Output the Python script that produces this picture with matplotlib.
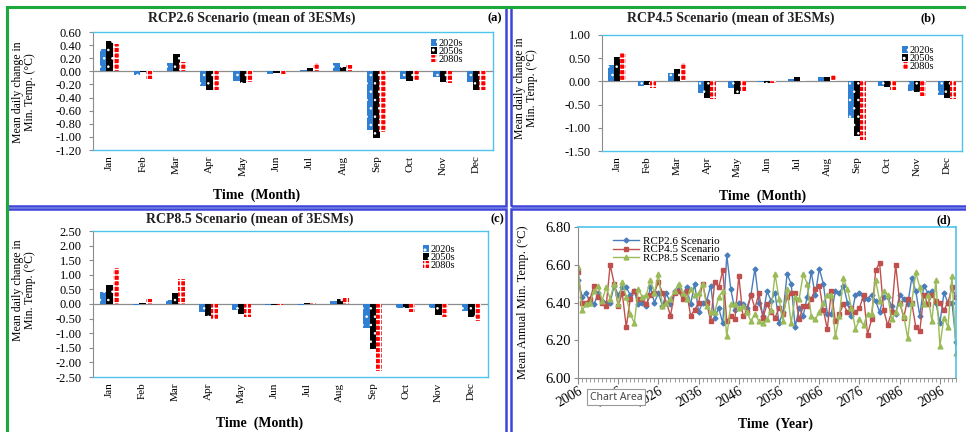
import numpy as np
import matplotlib
matplotlib.use("Agg")
import matplotlib.pyplot as plt
from matplotlib.ticker import FormatStrFormatter, MultipleLocator
from matplotlib.patches import Rectangle
from matplotlib.lines import Line2D

plt.rcParams['font.family'] = ['Liberation Serif', 'DejaVu Serif']
plt.rcParams['axes.unicode_minus'] = False

months = ['Jan', 'Feb', 'Mar', 'Apr', 'May', 'Jun', 'Jul', 'Aug', 'Sep', 'Oct', 'Nov', 'Dec']
periods = ['2020s', '2050s', '2080s']

# RCP2.6 monthly change (deg C)
rcp26_2020s = [0.34, -0.06, 0.12, -0.23, -0.15, -0.04, 0.02, 0.12, -0.89, -0.12, -0.08, -0.17]
rcp26_2050s = [0.47, -0.01, 0.26, -0.29, -0.18, -0.02, 0.05, 0.07, -1.01, -0.15, -0.17, -0.29]
rcp26_2080s = [0.41, -0.12, 0.14, -0.29, -0.16, -0.04, 0.12, 0.10, -0.93, -0.13, -0.18, -0.28]

# RCP4.5
rcp45_2020s = [0.35, -0.10, 0.18, -0.25, -0.14, -0.02, 0.05, 0.09, -0.78, -0.09, -0.20, -0.30]
rcp45_2050s = [0.53, -0.07, 0.27, -0.36, -0.27, -0.04, 0.10, 0.10, -1.18, -0.13, -0.23, -0.36]
rcp45_2080s = [0.61, -0.14, 0.39, -0.37, -0.23, -0.04, 0.03, 0.14, -1.27, -0.18, -0.31, -0.37]

# RCP8.5
rcp85_2020s = [0.40, -0.05, 0.12, -0.26, -0.20, -0.05, -0.02, 0.10, -0.83, -0.12, -0.12, -0.24]
rcp85_2050s = [0.65, 0.03, 0.38, -0.40, -0.33, -0.05, 0.02, 0.17, -1.55, -0.15, -0.38, -0.45]
rcp85_2080s = [1.23, 0.16, 0.85, -0.50, -0.43, -0.05, 0.03, 0.22, -2.28, -0.26, -0.44, -0.59]

# annual mean minimum temperature 2006-2100
years = list(range(2006, 2101))
annual_rcp26 = [6.52, 6.43, 6.45, 6.40, 6.39, 6.45, 6.41, 6.40, 6.40, 6.49,
                6.44, 6.48, 6.48, 6.44, 6.46, 6.39, 6.40, 6.38, 6.48, 6.40,
                6.45, 6.38, 6.45, 6.39, 6.46, 6.47, 6.44, 6.48, 6.39, 6.50,
                6.35, 6.40, 6.41, 6.49, 6.32, 6.37, 6.29, 6.65, 6.47, 6.36,
                6.40, 6.39, 6.37, 6.44, 6.58, 6.40, 6.33, 6.46, 6.41, 6.45,
                6.29, 6.35, 6.55, 6.50, 6.27, 6.37, 6.33, 6.43, 6.56, 6.44,
                6.58, 6.50, 6.34, 6.34, 6.46, 6.45, 6.49, 6.40, 6.33, 6.44,
                6.45, 6.42, 6.42, 6.44, 6.41, 6.35, 6.43, 6.43, 6.38, 6.34,
                6.44, 6.42, 6.39, 6.53, 6.46, 6.33, 6.49, 6.45, 6.46, 6.40,
                6.29, 6.45, 6.40, 6.40, 6.19]
annual_rcp45 = [6.56, 6.40, 6.40, 6.42, 6.49, 6.43, 6.40, 6.38, 6.60, 6.50,
                6.38, 6.45, 6.27, 6.42, 6.46, 6.42, 6.42, 6.39, 6.44, 6.45,
                6.51, 6.45, 6.40, 6.33, 6.45, 6.46, 6.42, 6.46, 6.33, 6.36,
                6.40, 6.50, 6.40, 6.30, 6.51, 6.48, 6.57, 6.30, 6.33, 6.31,
                6.54, 6.33, 6.35, 6.44, 6.37, 6.45, 6.32, 6.39, 6.35, 6.32,
                6.37, 6.34, 6.43, 6.45, 6.45, 6.31, 6.38, 6.38, 6.42, 6.47,
                6.49, 6.36, 6.26, 6.46, 6.30, 6.34, 6.39, 6.35, 6.37, 6.35,
                6.37, 6.44, 6.23, 6.31, 6.57, 6.61, 6.36, 6.28, 6.35, 6.60,
                6.40, 6.32, 6.42, 6.40, 6.27, 6.25, 6.44, 6.39, 6.44, 6.41,
                6.40, 6.36, 6.40, 6.48, 6.43]
annual_rcp85 = [6.59, 6.36, 6.39, 6.40, 6.46, 6.49, 6.41, 6.48, 6.42, 6.50,
                6.39, 6.51, 6.43, 6.34, 6.29, 6.47, 6.43, 6.44, 6.52, 6.45,
                6.55, 6.38, 6.40, 6.42, 6.46, 6.50, 6.45, 6.42, 6.47, 6.44,
                6.45, 6.50, 6.38, 6.35, 6.35, 6.43, 6.46, 6.22, 6.39, 6.39,
                6.37, 6.38, 6.35, 6.30, 6.34, 6.30, 6.29, 6.31, 6.36, 6.55,
                6.42, 6.30, 6.47, 6.29, 6.43, 6.42, 6.55, 6.50, 6.33, 6.31,
                6.35, 6.40, 6.44, 6.44, 6.22, 6.33, 6.53, 6.47, 6.37, 6.26,
                6.31, 6.28, 6.34, 6.34, 6.52, 6.41, 6.46, 6.44, 6.31, 6.35,
                6.40, 6.33, 6.21, 6.40, 6.56, 6.48, 6.39, 6.44, 6.30, 6.52,
                6.17, 6.32, 6.27, 6.54, 6.13]

W, H = 966, 432
fig = plt.figure(figsize=(W / 100, H / 100), dpi=100)


def frac(x0, y0, x1, y1):
    # pixel box (top-left origin) -> figure rect
    return [x0 / W, 1 - y1 / H, (x1 - x0) / W, (y1 - y0) / H]


# panel frames
frame_blue = '#3D45D6'
for (x0, y0, x1, y1) in [(7, 7, 506, 206), (511, 7, 970, 206), (7, 209, 506, 440), (511, 209, 970, 440)]:
    fig.patches.append(Rectangle((x0 / W, 1 - y1 / H), (x1 - x0) / W, (y1 - y0) / H,
                                 transform=fig.transFigure, fill=False,
                                 edgecolor=frame_blue, lw=1.8))
fig.add_artist(Line2D([7 / W, 7 / W], [0, 1 - 7 / H], color='#1DAA3C', lw=2.2, transform=fig.transFigure))
fig.add_artist(Line2D([7 / W, 1], [1 - 7 / H, 1 - 7 / H], color='#1DAA3C', lw=2.2, transform=fig.transFigure))

sky = '#4EC3EE'
bar_colors = ['#2F7FD3', '#000000', '#FF0000']
hatches = ['..', '..', '+++']
hatch_lw = [0.6, 0.6, 1.0]


def bar_panel(rect, data, ylim, step, title, tag, title_xy, tag_xy, ylab_xy, xlab_xy, leg_xy):
    ax = fig.add_axes(frac(*rect))
    x = np.arange(len(months))
    w = 0.19
    handles = []
    for i, vals in enumerate(data):
        pos = x + (i - 1) * w
        ax.bar(pos, vals, w, color=bar_colors[i], edgecolor='none', zorder=2)
        with plt.rc_context({'hatch.linewidth': hatch_lw[i]}):
            ax.bar(pos, vals, w, facecolor='none', edgecolor='white', hatch=hatches[i], lw=0, zorder=3)
            handles.append(Rectangle((0, 0), 1, 1, facecolor=bar_colors[i], edgecolor='white',
                                     hatch=hatches[i], lw=0))
    ax.set_xlim(-0.5, 11.5)
    ax.set_ylim(*ylim)
    ax.yaxis.set_major_locator(MultipleLocator(step))
    ax.yaxis.set_major_formatter(FormatStrFormatter('%.2f'))
    ax.axhline(0, color='#8c8c8c', lw=0.9, zorder=1)
    ax.set_xticks(x)
    ax.set_xticklabels(months, rotation=90, fontsize=8)
    ax.tick_params(axis='x', length=0, pad=4)
    ax.tick_params(axis='y', labelsize=9, length=3, color='#8c8c8c', pad=5)
    for s in ['top', 'right', 'bottom']:
        ax.spines[s].set_color(sky)
        ax.spines[s].set_linewidth(1.0)
    ax.spines['left'].set_color('#8c8c8c')

    ax.legend(handles, periods, loc='upper left', bbox_to_anchor=(leg_xy[0] / W, 1 - leg_xy[1] / H),
              bbox_transform=fig.transFigure, frameon=False, fontsize=7.5,
              handlelength=0.6, handleheight=0.6, labelspacing=-0.1, handletextpad=0.15, borderpad=0)

    fig.text(title_xy[0] / W, 1 - title_xy[1] / H, title, ha='center', va='center', fontsize=10, fontweight='bold', color='#222222')
    fig.text(tag_xy[0] / W, 1 - tag_xy[1] / H, tag, ha='center', va='center', fontsize=9, fontweight='bold')
    fig.text(ylab_xy[0] / W, 1 - ylab_xy[1] / H, 'Mean daily change in\nMin. Temp. (\u00b0C)', ha='center', va='center',
             rotation=90, fontsize=8.5, linespacing=1.0)
    fig.text(xlab_xy[0] / W, 1 - xlab_xy[1] / H, 'Time  (Month)', ha='center', va='center', fontsize=10, fontweight='bold')
    return ax


bar_panel((93, 32, 493, 150), [rcp26_2020s, rcp26_2050s, rcp26_2080s], (-1.2, 0.6), 0.2,
          'RCP2.6 Scenario (mean of 3ESMs)', '(a)', (252, 18), (495, 18), (24, 92), (257, 195), (426, 34))
bar_panel((602, 35, 962, 151), [rcp45_2020s, rcp45_2050s, rcp45_2080s], (-1.5, 1.0), 0.5,
          'RCP4.5 Scenario (mean of 3ESMs)', '(b)', (731, 18), (928, 18), (526, 88), (763, 196), (897, 41))
bar_panel((93, 231, 488, 377), [rcp85_2020s, rcp85_2050s, rcp85_2080s], (-2.5, 2.5), 0.5,
          'RCP8.5 Scenario (mean of 3ESMs)', '(c)', (250, 219), (497, 219), (24, 290), (260, 423), (418, 240))

# panel (d) annual series
axd = fig.add_axes(frac(578, 227, 956, 378))
axd.plot(years, annual_rcp26, color='#4A7EBB', marker='D', ms=2.5, lw=1.0, label='RCP2.6 Scenario')
axd.plot(years, annual_rcp45, color='#C0504D', marker='s', ms=3.5, lw=1.0, label='RCP4.5 Scenario')
axd.plot(years, annual_rcp85, color='#9BBB59', marker='^', ms=3.5, lw=1.0, label='RCP8.5 Scenario')
axd.set_xlim(2006, 2100)
axd.set_ylim(6.0, 6.8)
axd.yaxis.set_major_locator(MultipleLocator(0.2))
axd.yaxis.set_major_formatter(FormatStrFormatter('%.2f'))
axd.set_xticks(list(range(2006, 2101, 10)))
axd.xaxis.set_minor_locator(MultipleLocator(1))
axd.tick_params(axis='x', which='major', labelsize=10, length=4, color='#8c8c8c', pad=1)
axd.tick_params(axis='x', which='minor', length=3, color='#8c8c8c')
axd.tick_params(axis='y', labelsize=10.5, length=3, color='#8c8c8c', pad=2)
for lab in axd.get_xticklabels():
    lab.set_rotation(30)
    lab.set_ha('right')
    lab.set_rotation_mode('anchor')
for s in ['top', 'right']:
    axd.spines[s].set_color(sky)
    axd.spines[s].set_linewidth(1.2)
axd.spines['left'].set_color('#8c8c8c')
axd.spines['bottom'].set_color('#8c8c8c')
axd.legend(loc='upper left', bbox_to_anchor=(607 / W, 1 - 231 / H), bbox_transform=fig.transFigure,
           frameon=False, fontsize=8, handlelength=2.4, labelspacing=-0.15, handletextpad=0.3, borderpad=0)
fig.text(944 / W, 1 - 220 / H, '(d)', ha='center', va='center', fontsize=8.5, fontweight='bold')
fig.text(523 / W, 1 - 302 / H, 'Mean Annual Min. Temp. (\u00b0C)', ha='center', va='center', rotation=90, fontsize=9)
fig.text(775 / W, 1 - 424 / H, 'Time  (Year)', ha='center', va='center', fontsize=10, fontweight='bold')
fig.text(616 / W, 1 - 397 / H, 'Chart Area', ha='center', va='center', fontsize=7.5, family='Noto Sans',
         color='#444444', bbox=dict(boxstyle='square,pad=0.25', facecolor='white', edgecolor='#9a9a9a', lw=0.8))

fig.savefig('out.png', dpi=100)
